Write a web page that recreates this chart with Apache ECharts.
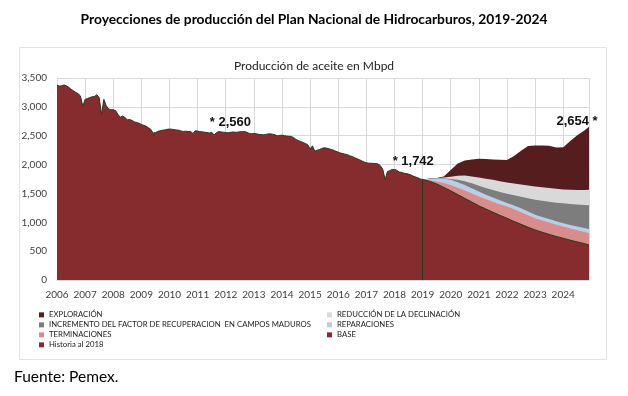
<!DOCTYPE html>
<html><head><meta charset="utf-8">
<script src="https://cdn.jsdelivr.net/npm/echarts@6/dist/echarts.min.js"></script>
<style>html,body{margin:0;padding:0;background:#fff}#c{width:628px;height:396px}</style>
</head><body><div id="c"></div>
<script>
const titleText = 'Proyecciones de producción del Plan Nacional de Hidrocarburos, 2019-2024';
const subtitleText = 'Producción de aceite en Mbpd';
const sourceText = 'Fuente: Pemex.';

// Monthly history, Jan 2006 .. Jan 2019 (Mbpd)
const histStart = '2006-01';
const histValues = [
  3375, 3360, 3365, 3380, 3365, 3340, 3305, 3280, 3250, 3230, 3190, 3010,
  3130, 3145, 3160, 3175, 3180, 3210, 3160, 2870, 3130, 3020, 2965, 2950,
  2950, 2935, 2870, 2820, 2840, 2815, 2775, 2780, 2765, 2740, 2730, 2715,
  2695, 2680, 2665, 2640, 2610, 2545, 2555, 2575, 2585, 2595, 2600, 2610,
  2615, 2612, 2605, 2600, 2595, 2580, 2575, 2578, 2572, 2575, 2540, 2585,
  2580, 2570, 2568, 2560, 2556, 2545, 2560, 2515, 2550, 2573, 2565, 2560,
  2556, 2550, 2558, 2565, 2560, 2562, 2568, 2570, 2573, 2560, 2540, 2533,
  2540, 2533, 2525, 2520, 2516, 2520, 2530, 2533, 2525, 2515, 2498, 2505,
  2510, 2500, 2495, 2490, 2487, 2465, 2435, 2415, 2400, 2383, 2365, 2342,
  2270, 2325, 2230, 2250, 2260, 2280, 2290, 2285, 2275, 2262, 2250, 2230,
  2215, 2200, 2190, 2180, 2170, 2150, 2140, 2120, 2100, 2085, 2065, 2045,
  2030, 2025, 2022, 2020, 2018, 2010, 1980, 1920, 1740, 1880, 1895, 1915,
  1915, 1900, 1870, 1865, 1850, 1845, 1835, 1820, 1800, 1785, 1770, 1750,
  1742
];

// Projection components 2019-2024 (Mbpd)
const projDates = ['2019-01','2019-04','2019-07','2019-10','2020-01','2020-04','2020-07','2020-10',
  '2021-01','2021-04','2021-07','2021-10','2022-01','2022-04','2022-07','2022-10',
  '2023-01','2023-04','2023-07','2023-10','2024-01','2024-04','2024-07','2024-10','2024-12'];
const base          = [1742,1710,1665,1605,1545,1480,1415,1350,1285,1230,1175,1120,1070,1015,965,915,867,828,790,755,723,690,660,630,607];
const terminaciones = [0,20,40,75,103,120,135,148,161,170,180,192,202,210,210,205,203,204,205,203,202,203,202,200,203];
const reparaciones  = [0,22,55,75,87,95,98,92,86,78,73,68,63,65,70,65,60,60,60,60,60,62,63,70,75];
const incremento    = [0,2,2,7,13,40,64,85,103,117,132,145,160,178,197,230,260,280,300,322,343,363,383,400,410];
const reduccion     = [0,2,3,16,42,70,98,120,140,160,175,187,195,204,213,223,230,233,237,240,242,247,252,260,270];
const exploracion   = [0,2,3,17,115,215,260,295,325,340,355,373,390,478,585,682,710,725,733,715,730,845,950,1030,1089];

const annotations = [
  {date: '2012-03', value: 2560, text: '* 2,560', dx: 0, dy: 0},
  {date: '2018-09', value: 1742, text: '* 1,742', dx: 0, dy: 0, dist: 12},
  {date: '2024-12', value: 2654, text: '2,654 *', dx: -12, dy: 4}
];

const names = {
  expl: 'EXPLORACIÓN', red: 'REDUCCIÓN DE LA DECLINACIÓN',
  inc: 'INCREMENTO DEL FACTOR DE RECUPERACION  EN CAMPOS MADUROS',
  rep: 'REPARACIONES', ter: 'TERMINACIONES', base: 'BASE', hist: 'Historia al 2018'
};
const colors = {
  expl: '#551d1d', red: '#d9d9d9', inc: '#7d7d7d', rep: '#b9cde6', ter: '#d98c8c',
  base: '#872c2e', hist: '#872c2e', edge: '#26391f'
};

const toYear = s => { const p = s.split('-').map(Number); return p[0] + (p[1] - 1) / 12; };
const x0 = toYear(histStart);
const histData = histValues.map((v, i) => [x0 + i / 12, v]);
const px = projDates.map(toYear);
const comps = [base, terminaciones, reparaciones, incremento, reduccion, exploracion];
const cum = [];
comps.forEach((arr, k) => cum.push(arr.map((v, i) => v + (k ? cum[k - 1][i] : 0))));
const toPts = arr => arr.map((v, i) => [px[i], v]);
const xMax = px[px.length - 1];
const lastHist = histData[histData.length - 1];

function areaSeries(name, color, data, withLine) {
  return {
    name, type: 'line', data, symbol: 'none', silent: true,
    itemStyle: {color},
    lineStyle: withLine ? {color: colors.edge, width: 1} : {width: 0, color},
    areaStyle: {color, opacity: 1}
  };
}

const series = [
  areaSeries(names.expl, colors.expl, toPts(cum[5])),
  areaSeries(names.red, colors.red, toPts(cum[4])),
  areaSeries(names.inc, colors.inc, toPts(cum[3])),
  areaSeries(names.rep, colors.rep, toPts(cum[2])),
  areaSeries(names.ter, colors.ter, toPts(cum[1])),
  areaSeries(names.base, colors.base, toPts(cum[0]), true),
  Object.assign(areaSeries(names.hist, colors.hist, histData, true), {
    markLine: {
      silent: true, symbol: 'none', label: {show: false},
      lineStyle: {color: colors.edge, width: 1, type: 'solid'},
      data: [[{coord: [lastHist[0], 0]}, {coord: [lastHist[0], lastHist[1]]}]]
    }
  }),
  {
    type: 'scatter', data: [], silent: true,
    markPoint: {
      symbol: 'circle', symbolSize: 0, silent: true,
      data: annotations.map(a => ({
        coord: [toYear(a.date), a.value],
        label: {
          show: true, position: 'top', distance: a.dist || 3, offset: [a.dx, a.dy],
          formatter: a.text, fontFamily: 'Liberation Sans, Arial', fontWeight: 'bold',
          fontSize: 13, color: '#111'
        }
      }))
    }
  }
];

const legendText = {fontFamily: 'Lato', fontSize: 7.75, color: '#222', lineHeight: 9.7};
const chart = echarts.init(document.getElementById('c'), null, {renderer: 'canvas'});
chart.setOption({
  animation: false,
  backgroundColor: '#fff',
  title: [
    {text: titleText, left: 'center', top: 8,
     textStyle: {fontFamily: 'Lato', fontWeight: 'bold', fontSize: 13.8, color: '#000'}},
    {text: subtitleText, left: 'center', top: 55,
     textStyle: {fontFamily: 'Lato', fontWeight: 'normal', fontSize: 12, color: '#222'}}
  ],
  grid: {left: 57, right: 39, top: 78, bottom: 116},
  xAxis: {
    type: 'value', min: x0, max: xMax, interval: 1,
    axisLine: {show: true, lineStyle: {color: '#d9d9d9'}},
    axisTick: {show: false},
    splitLine: {show: true, lineStyle: {color: '#d9d9d9', width: 1}},
    axisLabel: {
      showMaxLabel: false, margin: 10, color: '#404040', fontFamily: 'Lato', fontSize: 10,
      formatter: v => Math.abs(v - Math.round(v)) < 1e-6 ? String(Math.round(v)) : ''
    }
  },
  yAxis: {
    type: 'value', min: 0, max: 3500, interval: 500,
    axisLine: {show: false}, axisTick: {show: false},
    splitLine: {lineStyle: {color: '#d9d9d9', width: 1}},
    axisLabel: {
      margin: 10, color: '#404040', fontFamily: 'Lato', fontSize: 10,
      formatter: v => v.toLocaleString('en-US')
    }
  },
  legend: [
    {orient: 'vertical', left: 39, top: 310, padding: 0, itemWidth: 5, itemHeight: 5, itemGap: 0.3,
     icon: 'rect', selectedMode: false, textStyle: legendText,
     data: [names.expl, names.inc, names.ter, names.hist]},
    {orient: 'vertical', left: 327, top: 310, padding: 0, itemWidth: 5, itemHeight: 5, itemGap: 0.3,
     icon: 'rect', selectedMode: false, textStyle: legendText,
     data: [names.red, names.rep, names.base]}
  ],
  graphic: [
    {type: 'rect', silent: true, z: -1, shape: {x: 19.5, y: 47.5, width: 587, height: 312},
     style: {fill: null, stroke: '#e3e3e3', lineWidth: 1}},
    {type: 'text', left: 14, top: 369, silent: true,
     style: {text: sourceText, fontFamily: 'Lato', fontSize: 15.5, fill: '#000'}}
  ],
  series
});
</script>
</body></html>
